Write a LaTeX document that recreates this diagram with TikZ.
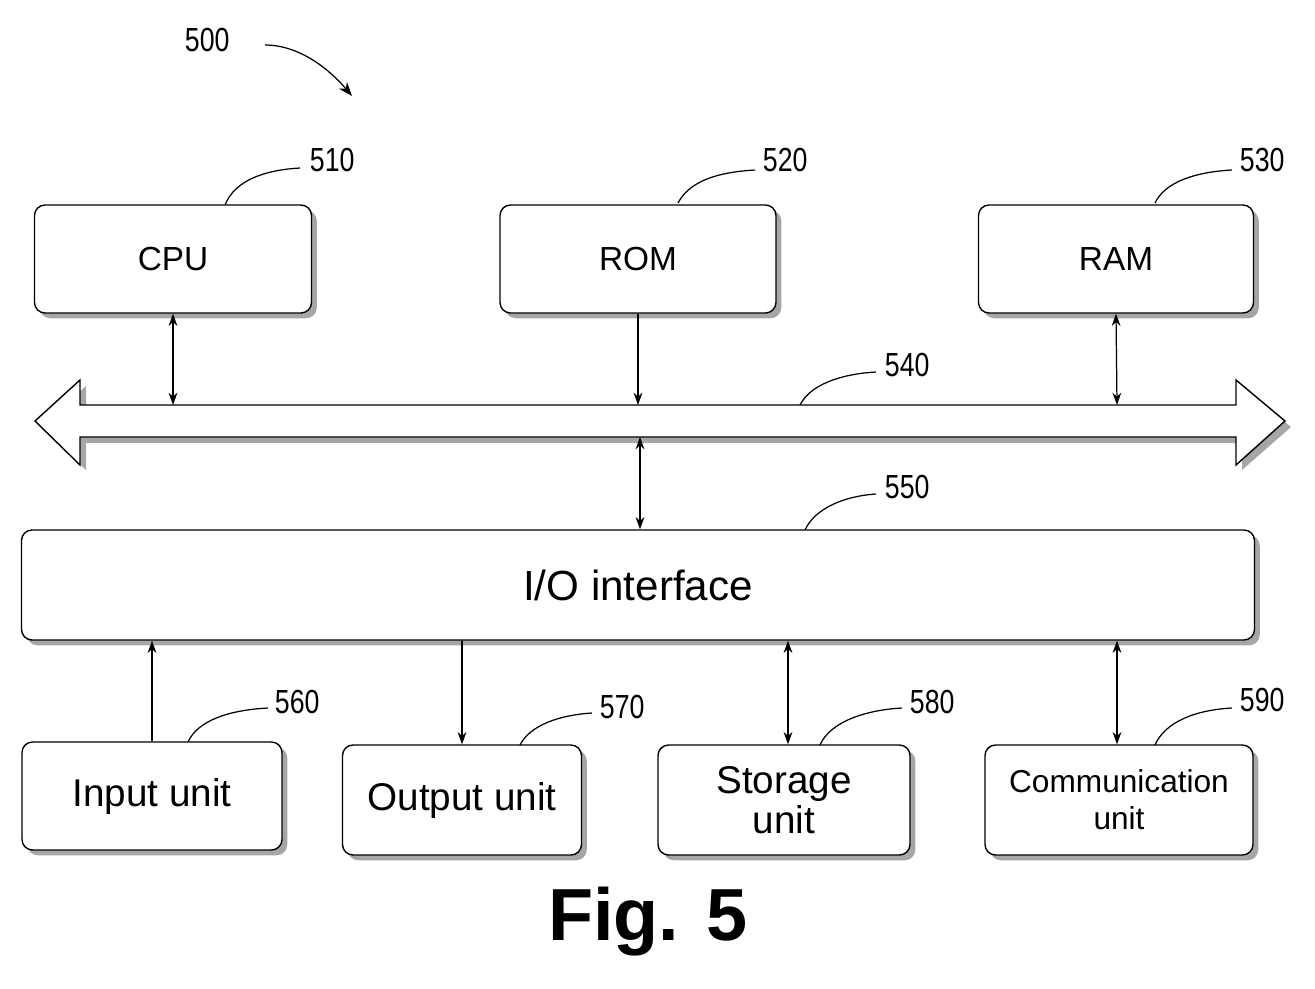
\documentclass[tikz,border=0pt]{standalone}
\usepackage{fontspec}
\setmainfont{Liberation Sans}
\usetikzlibrary{arrows.meta,shadows}
\begin{document}
\begin{tikzpicture}[x=0.02cm,y=-0.02cm,
 box/.style={draw,rounded corners=6pt,fill=white,line width=0.8pt,drop shadow={shadow xshift=3pt,shadow yshift=-3pt,fill=gray!70,opacity=1}},
 num/.style={font=\fontsize{19}{20}\selectfont,xscale=0.8,anchor=west},
 lead/.style={line width=0.7pt},
 arr/.style={line width=0.7pt,-{Stealth[length=7pt,width=5pt]}},
 darr/.style={line width=0.7pt,{Stealth[length=7pt,width=5pt]}-{Stealth[length=7pt,width=5pt]}}]
\useasboundingbox (0,0) rectangle (1315,988);
% boxes
\node[box,minimum width=277*0.02cm,minimum height=108*0.02cm,font=\fontsize{19}{20}\selectfont] (cpu) at (173,259) {CPU};
\node[box,minimum width=276*0.02cm,minimum height=108*0.02cm,font=\fontsize{19}{20}\selectfont] (rom) at (638,259) {ROM};
\node[box,minimum width=275*0.02cm,minimum height=108*0.02cm,font=\fontsize{19}{20}\selectfont] (ram) at (1116,259) {RAM};
\node[box,minimum width=1233*0.02cm,minimum height=110*0.02cm,font=\fontsize{24}{26}\selectfont] (io) at (638,585) {I/O interface};
\node[box,minimum width=260*0.02cm,minimum height=108*0.02cm,font=\fontsize{22}{24}\selectfont] (in) at (152,796) {Input unit};
\node[box,minimum width=239*0.02cm,minimum height=110*0.02cm,font=\fontsize{22}{24}\selectfont] (out) at (462,800) {Output unit};
\node[box,minimum width=252*0.02cm,minimum height=110*0.02cm,font=\fontsize{22}{23}\selectfont,align=center] (sto) at (784,800) {Storage\\unit};
\node[box,minimum width=268*0.02cm,minimum height=110*0.02cm,font=\fontsize{18}{21}\selectfont,align=center,inner sep=1pt] (com) at (1119,800) {Communication\\unit};
% bus
\fill[gray!70] (41,427)--(86,386)--(86,411)--(1242,411)--(1242,386)--(1291,427)--(1242,470)--(1242,443)--(86,443)--(86,470)--cycle;
\draw[fill=white,line width=0.8pt] (35,421)--(80,380)--(80,405)--(1236,405)--(1236,380)--(1285,421)--(1236,465)--(1236,437)--(80,437)--(80,465)--cycle;
\coordinate (bt1) at (173,405); \coordinate (bt2) at (638,405); \coordinate (bt3) at (1117,405);
\coordinate (bb) at (640,437);
\draw[darr] (cpu.south) -- (bt1);
\draw[arr] (rom.south) -- (bt2);
\draw[darr] (ram.south) -- (bt3);
\draw[darr] (bb) -- (io.north -| bb);
\draw[arr] (in.north) -- (io.south -| in.north);
\draw[arr] (io.south -| out.north) -- (out.north);
\draw[darr] (io.south -| 788,0) -- (sto.north -| 788,0);
\draw[darr] (io.south -| 1117,0) -- (com.north -| 1117,0);
% labels
\node[num] (n500) at (180,40) {500};
\draw[lead,-{Stealth[length=8pt,width=6pt]}] (265,45) .. controls (300,45) and (330,70) .. (352,96);
\node[num] (n510) at (305,160) {510};
\draw[lead] (225,205) .. controls (235,180) and (265,170) .. (300,168);
\node[num] (n520) at (758,160) {520};
\draw[lead] (678,203) .. controls (690,180) and (720,172) .. (755,170);
\node[num] (n530) at (1235,160) {530};
\draw[lead] (1155,203) .. controls (1165,182) and (1195,172) .. (1232,170);
\node[num] (n540) at (880,365) {540};
\draw[lead] (800,405) .. controls (810,385) and (840,374) .. (876,372);
\node[num] (n550) at (880,487) {550};
\draw[lead] (805,530) .. controls (815,508) and (845,496) .. (876,494);
\node[num] (n560) at (270,702) {560};
\draw[lead] (188,742) .. controls (198,720) and (230,710) .. (268,708);
\node[num] (n570) at (595,707) {570};
\draw[lead] (520,745) .. controls (530,725) and (560,715) .. (592,713);
\node[num] (n580) at (905,702) {580};
\draw[lead] (820,745) .. controls (830,722) and (865,710) .. (902,708);
\node[num] (n590) at (1235,700) {590};
\draw[lead] (1155,745) .. controls (1165,722) and (1195,710) .. (1232,708);
\node[font=\bfseries\fontsize{42}{44}\selectfont] (fig) at (648,922) {Fig. 5};
\end{tikzpicture}
\end{document}
